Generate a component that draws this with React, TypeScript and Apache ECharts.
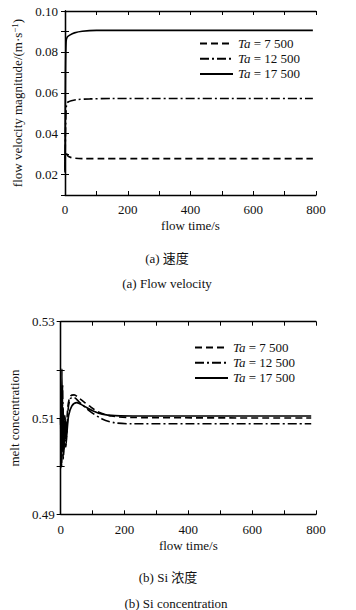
import React, { useEffect, useRef } from "react";
import * as echarts from "echarts";

// ---- data (a) flow velocity ----
const velTicks = [0.02, 0.04, 0.06, 0.08, 0.1];
const vel7500: [number, number][] = [
  [0, 0.021], [1.5, 0.031], [5, 0.0302], [10, 0.029], [18, 0.0284], [30, 0.028], [60, 0.0278], [120, 0.0278], [790, 0.0278],
];
const vel12500: [number, number][] = [
  [0, 0.022], [2, 0.044], [5, 0.0545], [10, 0.0555], [20, 0.0561], [40, 0.0567], [80, 0.057], [150, 0.0572], [790, 0.0572],
];
const vel17500: [number, number][] = [
  [0, 0.024], [1.5, 0.07], [3.5, 0.085], [7, 0.0872], [15, 0.0882], [30, 0.0893], [55, 0.0901], [100, 0.0905], [790, 0.0905],
];

// ---- data (b) Si concentration ----
const concTicks = [0.49, 0.51, 0.53];
const conc7500: [number, number][] = [
  [0, 0.51], [2, 0.5005], [5, 0.515], [8, 0.5015], [12, 0.5095], [16, 0.504], [22, 0.512], [30, 0.5145], [42, 0.5148],
  [60, 0.514], [90, 0.5125], [120, 0.5112], [160, 0.5104], [220, 0.5101], [785, 0.51],
];
const conc12500: [number, number][] = [
  [0, 0.51], [3, 0.5], [6, 0.517], [9, 0.502], [13, 0.5105], [17, 0.5045], [23, 0.5115], [30, 0.514], [40, 0.5143],
  [60, 0.5132], [90, 0.5115], [130, 0.5098], [170, 0.509], [220, 0.5088], [785, 0.5088],
];
const conc17500: [number, number][] = [
  [0, 0.51], [2, 0.4997], [4, 0.5202], [6, 0.503], [8, 0.512], [11, 0.5035], [14, 0.51], [18, 0.506], [25, 0.5105],
  [35, 0.5125], [50, 0.5132], [70, 0.5126], [100, 0.5115], [130, 0.5108], [170, 0.5105], [250, 0.5104], [785, 0.5104],
];

const seriesNames = ["Ta = 7 500", "Ta = 12 500", "Ta = 17 500"];
const xLabels = [0, 200, 400, 600, 800];

const FONT = '"Liberation Serif", "Times New Roman", "Noto Sans CJK SC", serif';

const lineStyles: any[] = [
  { type: [7, 4] },
  { type: [9, 3, 2, 3] },
  { type: "solid" },
];

export default function App() {
  const ref = useRef<HTMLDivElement>(null);
  useEffect(() => {
    document.body.style.margin = "0";
    const chart = echarts.init(ref.current!, null, { renderer: "svg" });
    const axisLine = { lineStyle: { color: "#000", width: 1.3 } };
    const tick = { inside: true, length: 4, lineStyle: { color: "#000", width: 1 } };
    const labelStyle = { color: "#111", fontFamily: FONT, fontSize: 13, fontWeight: "normal" };
    const xFmt = (v: number) => (xLabels.indexOf(Math.round(v)) >= 0 ? String(Math.round(v)) : "");
    const velFmt = (v: number) => {
      const r = Math.round(v * 100) / 100;
      return velTicks.some((t) => Math.abs(t - r) < 1e-6) ? r.toFixed(2) : "";
    };
    const concFmt = (v: number) => {
      const r = Math.round(v * 100) / 100;
      return concTicks.some((t) => Math.abs(t - r) < 1e-6) ? r.toFixed(2) : "";
    };
    const mkX = (gi: number, pos: string, show: boolean, margin: number, gap: number) => ({
      type: "value",
      gridIndex: gi,
      position: pos,
      min: 0,
      max: 800,
      interval: 100,
      splitLine: { show: false },
      axisLine,
      axisTick: tick,
      axisLabel: show ? { ...labelStyle, margin, formatter: xFmt } : { show: false },
      name: show ? "flow time/s" : "",
      nameLocation: "middle",
      nameGap: gap,
      nameTextStyle: { ...labelStyle },
    });
    const mkY = (gi: number, pos: string, show: boolean, min: number, max: number, fmt: any, name: string, gap: number, margin: number) => ({
      type: "value",
      gridIndex: gi,
      position: pos,
      min,
      max,
      interval: 0.01,
      splitLine: { show: false },
      axisLine,
      axisTick: tick,
      axisLabel: show ? { ...labelStyle, margin, formatter: fmt } : { show: false },
      name: show ? name : "",
      nameLocation: "middle",
      nameGap: gap,
      nameTextStyle: {
        ...labelStyle,
        rich: { sup: { fontFamily: FONT, fontSize: 9, color: "#111", verticalAlign: "top", padding: [0, 0, 6, 0] } },
      },
    });
    const legendRich = { i: { fontStyle: "italic", fontFamily: FONT, fontSize: 13, color: "#111" } };
    const mkSeries = (data: [number, number][], idx: number, gi: number) => ({
      type: "line",
      name: seriesNames[idx],
      xAxisIndex: gi * 2,
      yAxisIndex: gi * 2,
      data,
      showSymbol: false,
      symbol: "none",
      smooth: 0.3,
      lineStyle: { color: "#000", width: 1.6, ...lineStyles[idx] },
      itemStyle: { color: "#000" },
    });
    const mkLegend = (left: number, top: number) => ({
      data: seriesNames,
      orient: "vertical",
      left,
      top,
      itemWidth: 33,
      itemHeight: 14,
      itemGap: 2.2,
      padding: 0,
      selectedMode: false,
      itemStyle: { opacity: 0 },
      formatter: (n: string) => n.replace("Ta", "{i|Ta}"),
      textStyle: { fontFamily: FONT, fontSize: 13, color: "#111", rich: legendRich },
    });
    chart.setOption({
      animation: false,
      backgroundColor: "#fff",
      grid: [
        { left: 65, top: 11, width: 251, height: 184 },
        { left: 57.3, top: 321.7, width: 258.7, height: 192.6 },
      ],
      xAxis: [mkX(0, "bottom", true, 8, 24), mkX(0, "top", false, 0, 0), mkX(1, "bottom", true, 9, 25), mkX(1, "top", false, 0, 0)],
      yAxis: [
        mkY(0, "left", true, 0.01, 0.1, velFmt, "flow velocity magnitude/(m·s{sup|−1})", 33, 7),
        mkY(0, "right", false, 0.01, 0.1, velFmt, "", 0, 0),
        mkY(1, "left", true, 0.49, 0.53, concFmt, "melt concentration", 31, 6),
        mkY(1, "right", false, 0.49, 0.53, concFmt, "", 0, 0),
      ],
      legend: [mkLegend(199, 37), mkLegend(194, 341)],
      series: [
        mkSeries(vel7500, 0, 0),
        mkSeries(vel12500, 1, 0),
        mkSeries(vel17500, 2, 0),
        mkSeries(conc7500, 0, 1),
        mkSeries(conc12500, 1, 1),
        mkSeries(conc17500, 2, 1),
      ],
      graphic: [
        { type: "text", x: 167, y: 258, style: { text: "(a) 速度", fontFamily: FONT, fontSize: 13, fill: "#111", align: "center", verticalAlign: "middle" } },
        { type: "text", x: 167, y: 283, style: { text: "(a) Flow velocity", fontFamily: FONT, fontSize: 13, fill: "#111", align: "center", verticalAlign: "middle" } },
        { type: "text", x: 168, y: 577, style: { text: "(b) Si 浓度", fontFamily: FONT, fontSize: 13, fill: "#111", align: "center", verticalAlign: "middle" } },
        { type: "text", x: 176, y: 603, style: { text: "(b) Si concentration", fontFamily: FONT, fontSize: 13, fill: "#111", align: "center", verticalAlign: "middle" } },
      ],
    });
    return () => chart.dispose();
  }, []);
  return <div ref={ref} style={{ width: 356, height: 610 }} />;
}
